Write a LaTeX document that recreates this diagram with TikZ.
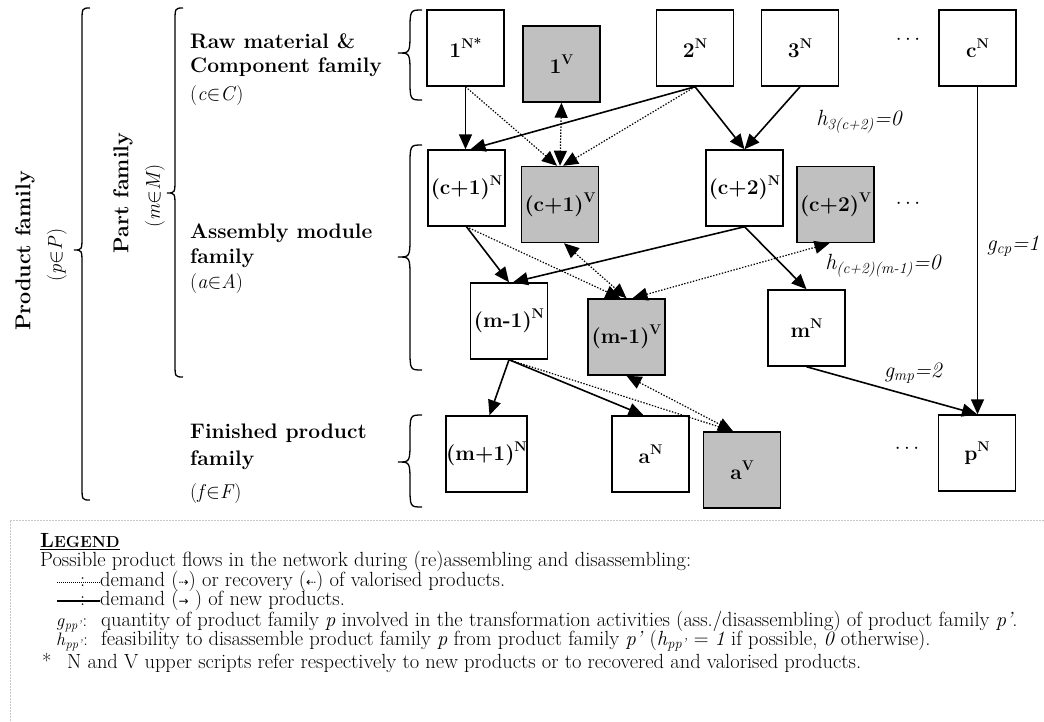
\documentclass[tikz,border=0pt]{standalone}
\usepackage{fontspec}
\newfontfamily\symfont{DejaVu Sans}
\usetikzlibrary{arrows.meta,calc}

\definecolor{vgray}{RGB}{192,192,192}
\definecolor{legline}{RGB}{200,200,200}

% raised exponent used in the box labels
\newcommand{\upsc}[1]{\raisebox{0.42em}{\fontsize{14}{14}\selectfont #1}}
% left curly brace: x, top, tip, bottom, half width
\newcommand{\curlybr}[5]{%
  \draw[bracestyle] ({#1+#5},#2) .. controls (#1,#2) .. (#1,{#2+#5*1.8})
    -- (#1,{#3-#5*1.8}) .. controls (#1,#3) .. ({#1-#5},#3)
    .. controls (#1,#3) .. (#1,{#3+#5*1.8})
    -- (#1,{#4-#5*1.8}) .. controls (#1,#4) .. ({#1+#5},#4);}

\begin{document}
\begin{tikzpicture}[x=1pt,y=-1pt,
  box/.style={draw, line width=1.5pt, minimum width=77pt, minimum height=76pt,
    inner sep=0pt, font=\bfseries\fontsize{21}{23}\selectfont},
  vbox/.style={box, fill=vgray},
  tip/.tip={Triangle[length=15pt,width=13pt]},
  flow/.style={line width=1.6pt, -tip},
  vflow/.style={line width=1.2pt, dash pattern=on 1.4pt off 1.6pt, -tip},
  vflowboth/.style={line width=1.2pt, dash pattern=on 1.4pt off 1.6pt, tip-tip},
  famlabel/.style={anchor=west, inner sep=0pt, font=\bfseries\fontsize{21}{23}\selectfont},
  setlabel/.style={anchor=west, inner sep=0pt, font=\fontsize{20}{22}\selectfont},
  param/.style={inner sep=0pt, font=\itshape\fontsize{22}{24}\selectfont},
  dotsnode/.style={inner sep=0pt, font=\fontsize{20}{22}\selectfont},
  legtext/.style={anchor=west, inner sep=0pt, font=\fontsize{20.5}{22}\selectfont,
    text height=13pt, text depth=4pt},
  bracestyle/.style={line width=1.3pt},
]
\useasboundingbox (0,0) rectangle (1044,721);

% ---------- family braces and labels ----------
\curlybr{82}{8}{250}{500}{8}
\curlybr{175}{8}{193}{377}{8}
\curlybr{410}{10}{53}{100}{12}
\curlybr{410}{145}{257}{370}{12}
\curlybr{410}{415}{462}{507}{12}

\node[rotate=90, inner sep=0pt, font=\bfseries\fontsize{21.5}{23}\selectfont] (prodfam) at (25,251) {Product family};
\node[rotate=90, inner sep=0pt, font=\fontsize{20}{22}\selectfont] (prodset) at (57,255) {(\textit{p}$\in$\textit{P})};
\node[rotate=90, inner sep=0pt, font=\bfseries\fontsize{21.5}{23}\selectfont] (partfam) at (123,193) {Part family};
\node[rotate=90, inner sep=0pt, font=\fontsize{20}{22}\selectfont] (partset) at (155,196) {(\textit{m}$\in$\textit{M})};

\node[famlabel] (raw1) at (190,41) {Raw material \&};
\node[famlabel] (raw2) at (190,67) {Component family};
\node[setlabel] (rawset) at (190,96) {(\textit{c}$\in$\textit{C})};

\node[famlabel] (asm1) at (190,233) {Assembly module};
\node[famlabel] (asm2) at (190,258) {family};
\node[setlabel] (asmset) at (190,284) {(\textit{a}$\in$\textit{A})};

\node[famlabel] (fin1) at (190,433) {Finished product};
\node[famlabel] (fin2) at (190,460) {family};
\node[setlabel] (finset) at (190,493) {(\textit{f}$\in$\textit{F})};

% ---------- product nodes ----------
\node[box]  (n1N)   at (465.5,48)  {1\upsc{N*}};
\node[vbox] (n1V)   at (561.5,64)  {1\upsc{V}};
\node[box]  (n2N)   at (695,48)    {2\upsc{N}};
\node[box]  (n3N)   at (800,48)    {3\upsc{N}};
\node[dotsnode] (dots1) at (908,40) {$\cdots$};
\node[box]  (ncN)   at (977.5,48)  {c\upsc{N}};

\node[box]  (nc1N)  at (466.5,188) {(c+1)\upsc{N}};
\node[vbox] (nc1V)  at (560,204.5) {(c+1)\upsc{V}};
\node[box]  (nc2N)  at (744.5,188) {(c+2)\upsc{N}};
\node[vbox] (nc2V)  at (835.5,204.5) {(c+2)\upsc{V}};
\node[dotsnode] (dots2) at (908,204) {$\cdots$};

\node[box]  (nm1N)  at (509,321)   {(m-1)\upsc{N}};
\node[vbox] (nm1V)  at (626.5,337) {(m-1)\upsc{V}};
\node[box]  (nmN)   at (806.5,328) {m\upsc{N}};

\node[box]  (nmp1N) at (486.5,454) {(m+1)\upsc{N}};
\node[box]  (naN)   at (650.5,454) {a\upsc{N}};
\node[vbox] (naV)   at (742,470)   {a\upsc{V}};
\node[dotsnode] (dots3) at (907,449) {$\cdots$};
\node[box]  (npN)   at (977,453)   {p\upsc{N}};

% ---------- demand of new products ----------
\draw[flow] (n1N.south) -- (n1N.south |- nc1N.north);
\draw[flow] (n2N.south) -- ([xshift=4pt]nc1N.north);
\draw[flow] (n2N.south) -- (nc2N.north);
\draw[flow] (n3N.south) -- (nc2N.north);
\draw[flow] (ncN.south) -- (ncN.south |- npN.north);
\draw[flow] (nc1N.south) -- (nm1N.north);
\draw[flow] (nc2N.south) -- ([xshift=4pt]nm1N.north);
\draw[flow] (nc2N.south) -- (nmN.north);
\draw[flow] (nm1N.south) -- ([xshift=3pt]nmp1N.north);
\draw[flow] (nm1N.south) -- ([xshift=-7pt]naN.north);
\draw[flow] (nmN.south) -- (npN.north);

% ---------- demand / recovery of valorised products ----------
\draw[vflow] (n1N.south) -- ([xshift=-3pt]nc1V.north);
\draw[vflowboth] (n1V.south) -- (nc1V.north);
\draw[vflow] (n2N.south) -- ([xshift=3pt]nc1V.north);
\draw[vflow] (nc1N.south) -- ([xshift=-6pt]nm1V.north);
\draw[vflowboth] ([xshift=4pt]nc1V.south) -- (nm1V.north);
\draw[vflowboth] ([xshift=6pt]nm1V.north) -- ([xshift=-6pt]nc2V.south);
\draw[vflow] (nm1N.south) -- ([xshift=-9pt]naV.north);
\draw[vflowboth] (nm1V.south) -- ([xshift=-9pt]naV.north);

% ---------- parameters ----------
\node[param] (h3) at (859,122) {h\textsubscript{3(c+2)}=0};
\node[param] (hc2) at (883,266) {h\textsubscript{(c+2)(m-1)}=0};
\node[param] (gcp) at (1013,246) {g\textsubscript{cp}=1};
\node[param] (gmp) at (913,373) {g\textsubscript{mp}=2};

% ---------- legend ----------
\draw[legline, line width=0.8pt, dash pattern=on 2pt off 1pt] (10,721) -- (10,520) -- (1044,520);

\node[legtext] (legtitle) at (40,543) {\bfseries\underline{L{\fontsize{16}{16}\selectfont EGEND}}};
\node[legtext] (legintro) at (40,562) {Possible product flows in the network during (re)assembling and disassembling:};

\coordinate (dotA) at (57,582);
\coordinate (dotB) at (100,582);
\draw[line width=0.8pt, dash pattern=on 1pt off 1pt] (dotA) -- (dotB);
\node[legtext] (dotcolon) at (80,582) {:};
\node[legtext] (legdot) at (100,582) {demand ({\symfont\fontsize{12}{12}\selectfont ⇢}) or recovery ({\symfont\fontsize{12}{12}\selectfont ⇠}) of valorised products.};

\coordinate (solA) at (57,601);
\coordinate (solB) at (100,601);
\draw[line width=1.1pt] (solA) -- (solB);
\node[legtext] (solcolon) at (80,601) {:};
\node[legtext] (legsol) at (100,601) {demand ({\symfont\fontsize{12}{12}\selectfont →} ) of new products.};

\node[legtext, font=\fontsize{18}{20}\selectfont] (legg) at (56,622) {\textit{g}\textsubscript{\textit{pp’}}:};
\node[legtext] (leggtxt) at (101,622) {quantity of product family \textit{p} involved in the transformation activities (ass./disassembling) of product family \textit{p’}.};
\node[legtext, font=\fontsize{18}{20}\selectfont] (legh) at (56,641) {\textit{h}\textsubscript{\textit{pp’}}:};
\node[legtext] (leghtxt) at (101,641) {feasibility to disassemble product family \textit{p} from product family \textit{p’} (\textit{h}\textsubscript{\textit{pp’}} = \textit{1} if possible, \textit{0} otherwise).};

\node[legtext] (legstar) at (42,664) {*};
\node[legtext] (legnote) at (67,664) {N and V upper scripts refer respectively to new products or to recovered and valorised products.};
\end{tikzpicture}
\end{document}
